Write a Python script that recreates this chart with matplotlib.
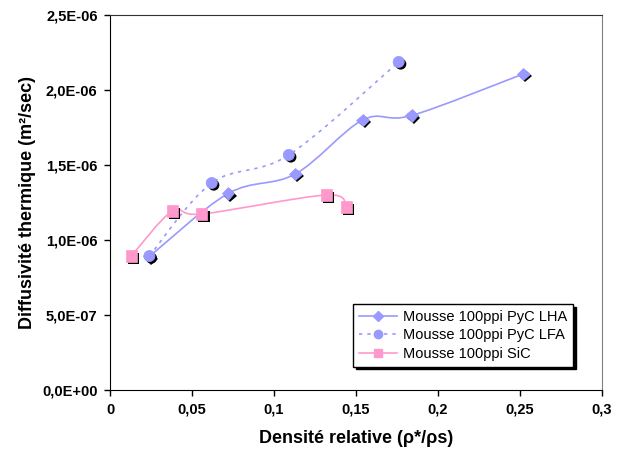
import matplotlib.pyplot as plt
import matplotlib.patheffects as pe
from matplotlib.path import Path
from matplotlib.patches import PathPatch
from matplotlib.lines import Line2D
from matplotlib.ticker import FuncFormatter

plt.rcParams['font.family'] = ['Liberation Sans', 'DejaVu Sans']

# Mousse 100ppi PyC LHA
lha_x = [0.024, 0.072, 0.113, 0.154, 0.184, 0.252]
lha_y = [0.89e-6, 1.31e-6, 1.44e-6, 1.80e-6, 1.83e-6, 2.107e-6]
# Mousse 100ppi PyC LFA
lfa_x = [0.024, 0.062, 0.109, 0.176]
lfa_y = [0.893e-6, 1.38e-6, 1.567e-6, 2.187e-6]
# Mousse 100ppi SiC
sic_x = [0.013, 0.038, 0.056, 0.132, 0.144]
sic_y = [0.893e-6, 1.193e-6, 1.173e-6, 1.30e-6, 1.22e-6]

labels = ['Mousse 100ppi PyC LHA', 'Mousse 100ppi PyC LFA', 'Mousse 100ppi SiC']
blue = '#9999ff'
pink = '#ff99cc'


def smooth_path(xs, ys):
    # Excel-style smoothed line: cubic Bezier through the points
    pts = list(zip(xs, ys))
    n = len(pts)
    verts = [pts[0]]
    codes = [Path.MOVETO]
    for i in range(n - 1):
        p0 = pts[max(i - 1, 0)]
        p1 = pts[i]
        p2 = pts[i + 1]
        p3 = pts[min(i + 2, n - 1)]
        c1 = (p1[0] + (p2[0] - p0[0]) / 6, p1[1] + (p2[1] - p0[1]) / 6)
        c2 = (p2[0] - (p3[0] - p1[0]) / 6, p2[1] - (p3[1] - p1[1]) / 6)
        verts += [c1, c2, p2]
        codes += [Path.CURVE4] * 3
    return Path(verts, codes)


fig = plt.figure(figsize=(6.33, 4.57), dpi=100)
ax = fig.add_axes([0.1738, 0.1466, 0.7773, 0.8206])

shadow = [pe.SimplePatchShadow(offset=(1.5, -1.5), shadow_rgbFace='black', alpha=1), pe.Normal()]

series = [
    (lha_x, lha_y, blue, '-', 'D', 6.5),
    (sic_x, sic_y, pink, '-', 's', 8),
    (lfa_x, lfa_y, blue, (0, (2, 3)), 'o', 8),
]
for xs, ys, col, ls, mk, ms in series:
    ax.add_patch(PathPatch(smooth_path(xs, ys), facecolor='none', edgecolor=col,
                           lw=1.2, linestyle=ls, zorder=2))
for xs, ys, col, ls, mk, ms in series:
    ax.plot(xs, ys, linestyle='none', marker=mk, ms=ms, mfc=col, mec=col,
            mew=0.5, zorder=3, path_effects=shadow)

ax.set_xlim(0, 0.3)
ax.set_ylim(0, 2.5e-6)
ax.set_xticks([0, 0.05, 0.1, 0.15, 0.2, 0.25, 0.3])
ax.set_yticks([0, 0.5e-6, 1.0e-6, 1.5e-6, 2.0e-6, 2.5e-6])
ax.xaxis.set_major_formatter(FuncFormatter(lambda v, p: ('%g' % round(v, 2)).replace('.', ',')))
ax.yaxis.set_major_formatter(FuncFormatter(lambda v, p: ('%.1E' % v).replace('.', ',')))
ax.tick_params(direction='out', length=4, width=1, labelsize=10.5, pad=5)
for lab in ax.get_xticklabels() + ax.get_yticklabels():
    lab.set_fontweight('bold')

ax.spines['left'].set_color('black')
ax.spines['bottom'].set_color('black')
ax.spines['top'].set_color('#303030')
ax.spines['right'].set_color('#808080')

ax.set_xlabel('Densité relative (ρ*/ρs)', fontsize=13, fontweight='bold', labelpad=10)
ax.set_ylabel('Diffusivité thermique (m²/sec)', fontsize=13, fontweight='bold', labelpad=4)

handles = [
    Line2D([], [], color=blue, lw=1.2, marker='D', ms=5, mfc=blue, mec=blue),
    Line2D([], [], color=blue, lw=1.2, linestyle=(0, (2, 3)), marker='o', ms=6, mfc=blue, mec=blue),
    Line2D([], [], color=pink, lw=1.2, marker='s', ms=6, mfc=pink, mec=pink),
]
leg = ax.legend(handles, labels, loc='upper left', bbox_to_anchor=(0.494, 0.229),
                borderaxespad=0, fontsize=10.5, fancybox=False, framealpha=1,
                edgecolor='black', handlelength=2.6, handletextpad=0.4,
                labelspacing=0.3, borderpad=0.4,
                shadow={'color': 'black', 'alpha': 1})
leg.get_frame().set_linewidth(1)

fig.savefig('out.png', dpi=100)
